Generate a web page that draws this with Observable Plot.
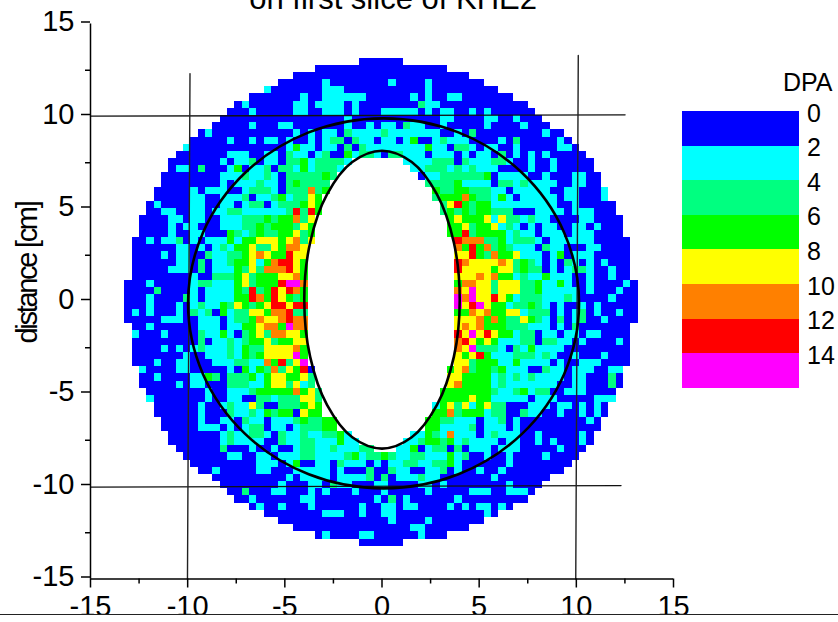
<!DOCTYPE html>
<html><head><meta charset="utf-8">
<script src="https://cdn.jsdelivr.net/npm/d3@7"></script>
<script src="https://cdn.jsdelivr.net/npm/@observablehq/plot@0.6"></script>
<style>
html,body{margin:0;padding:0;background:#fff;font-family:"Liberation Sans",Arial,sans-serif;overflow:hidden}
#wrap{position:relative;width:838px;height:614px;overflow:hidden;border-bottom:1px solid #222}
#legend div{position:absolute;color:#000}
svg{overflow:visible}
</style></head><body>
<div id="wrap"><div id="chart"></div><div id="legend"></div></div>
<script>
const dpaLabels=["0","2","4","6","8","10","12","14"];
const dpaThresholds=[2,4,6,8,10,12,14];
const dpaColors=["#0000ff","#00ffff","#00ff80","#00ff00","#ffff00","#ff8000","#ff0000","#ff00ff"];
const titleText="on first slice of KHE2";
const yLabel="distance [cm]";
const majorTicks=[-15,-10,-5,0,5,10,15];
const minorTicks=[-12.5,-7.5,-2.5,2.5,7.5,12.5];
// first occupied column of each scan line, top to bottom
const rowStart=[32,26,23,21,19,17,15,14,13,12,10,9,8,7,6,6,5,5,4,4,3,3,2,2,2,1,1,1,1,1,1,0,0,0,0,0,0,1,1,1,1,1,1,2,2,2,3,3,4,4,5,5,6,6,7,8,9,10,12,13,14,15,17,19,21,23,26,32];
// DPA class per cell (0 = 0-2 ... 7 = 14+); "|" marks the hole of the inner contour
const rows=[
"000000",
"000000000000000000",
"000000000000000000000000",
"000000 1 00000000 1 0000 1 0000000",
"1 0000000 111 00000000000 1 000000000",
"0000000 1 00 111111 000000 1 0 1 00 11 0000000",
"0 1 000000 11 0 1111 0 1 00000000 2 11 000000000000",
"000 1 00000 11 00 111 0 1 000 11111 0 1 0 11 00 1 0 1 000000",
"00000000000000000 1 000000000000 11 0000 11 00 1 000",
"00000 1 000 11 0000000 1 00 1 0 11 0 2 11 00 1 00000 1 0000 1 000",
"0 1 00000000000 1 0 1 0 11 0 2 1111 2 111111 1 00 1 0 2 000000000 1 00",
"00000 1 00 1 0 11 0100 1 0 1 22 0 2 11 0 11 0 1 3 00 1 2 111 0000 1 0 2 00000 1 0",
"1 0000000000000 1 3 11 0 11 0 2 0 2 11111111 3 11 0 22 1 0 11 00 1 00000 11 0",
"0000000 111 00 11 0 2 11 0 12 00 3 1 22 1 0 22 111 0 111 0 1 0 11 0 2 0 1 0 1 0 1 00000",
"0000000 1 0 11 2 0 11 0 22 3 1 2222 1 | 11 11 222 0 2 111 22 1 00 1 00 1 00000",
"0 11 0 2 000 1 3 0 11 2 0 22 1 3 1 222 1 | 11 222 1 2 1 2 111 0000 1 00 1 00000",
"00000000 111 2 11 2 1 0 22222 3 2 | 01 1 222222 3 0 1111 00 1 000 11 00",
"00000000 1 0 111 2 11 0 2 3 2222 | 22 22 3 1111 0 22 1 2 1111 00 11 00",
"00000 1 0 111 00 1 222 1 0 222 5 2 3 | 3 22 33 222 11 0 1111 1 00 11 000 1",
"00000 11 00 111 2 0 11 2 3 1 22 4 3 | 23 33 5 3 22 1 3 1 0 11111 0 11 000 1",
"0 1 0000 11 00 11 0 1 22 0 1 222 3 4 3 | 2 46 3 2 33 111111111 00 1 00000",
"00 11 00 11 011 22 1111 1 1 2 6 2 6 3 | 2 3 2 3 2 33 222 000 1111 0 11 1 000",
"0000 11 0 11 00 111 222 3 2 33 5 2 4 | 3 4 333 4 1 4 22 1 2 11 0000 11 0000",
"0000 1 0 11 000 111 22 3 2 333 2 4 3 | 3 3 4 2 33 4 1 2 1 0 1 0 11 00 11 0 1 000",
"0000 1 00 11 000 3 2 1 2 3 22 33 4 2 3 | 3 3 6 2 3333 1 2 11 0 111 0 111 0000",
"00 1 0 11 2 0 1 0 111 3 1 33 444 3 4 5 2 4 | 6 555 22 3 1 222 1 0 111111 00000",
"000000 11 0 1 0 1 2 1 33 4 22 4 3 55 4 | 5 3 6 3 5 2 3 2 111 0 2 11 000 11 0000",
"0000 1 0 11 00 2 11 22 3 4 5 4 33 6 44 | 44 6 3 2 5 33 4 111 0 1 3 0 111 00000",
"000000 11 0 2 0 11 2 33 4 1 3 5 66 4 3 | 6 5 4444 5 4 2 3 2 1 0 1 0 2 1 0 1 0 1 000",
"00000 111 0 2 0 111 3 2 4 2 555 6 4 3 | 6 4444 3 44 2 3 22 0 1 0 1 22 1 00 1 00",
"00000000 1 00 222 3 4 2 333 44 5 3 | 444 5 4 5 33 1 2 11 3 111 00 1 00 1 00",
"000 1 00000 1 22 111 3 4 2 333 6 77 5 | 3 5 5 44 2 444 22 3 11 3 1 00 1 0000 1 0",
"0000 2 0000 1 0 1111 3 2 6 2 3 6 4 6 5 3 | 5 4 7 44 2 444 22 3 11111 0 1 000 1 00",
"000 1 0000 2 1 0 1111 33 6 5 3 6 4 3 2 3 | 7 5 7 44 6 4 3 1 222 111 2 1 0000 1 000",
"000 1 000 1 0 1 2 11 3 2 4 3 2 3 4 66 4 66 | 7 4 6 7 4 33 1 22 3 2 1 0 1 00 1 0 1 00000",
"0 1 0 1 000 1 0 2 1 2 0 3 1 22 44 3 55 6 22 | 33 5 4 5 33 44 1 222 0 1 0 1 2 0 1 00 1 00",
"00000 111 00 11 1 0 1 22 3 5 44 5 6 55 | 444 5 3 5 3 22 4 3 2 1 0 2 0 1 2 00 1 0000",
"00 1 000000 111 0 11 33 4 55 3 7 55 | 4 5 4 5 333 222 111 0 1 0 2 0000000",
"1 000 1 0000 2 11 3 1 0 2 3 4 2 55 44 3 | 6 4 7 4 6 4 33 1 22 0 11 0 11 0 11 0000",
"000000000 2 0 11 2 1 2 33 4 2 33 44 | 5 6 4 3 4 3 111 22 0 22 11 0 1 0000 1 0",
"0000 1 0 1 0 1 2 111 2 1 3 22 4444 5 3 | 5 4 7 222 1 0 2 1 3 1111 000000000",
"0000000 1 00 111 2 1 3 2 3 4444 7 3 | 4 3 4 6 3 111 222 1 2 1 00 1 000 1 000",
"000 1 00 11 000 111 22 11 5 3 6 2 4 7 | 44 2 333 11 3 1111 0 1 00 111 0000",
"1 0000 11 0000 0 1 0 3 1 3 2 5 2 4 3 6 0 | 3 4 5 2 33 2 3 111 00 2 11 0 111 00 11",
"00 1 0000 11 3 2 0 22 2 3 1 3 44 33 4 2 | 4 4 3333 1 2 1 2 1 2 1111 0 11 000 2 0",
"00000 1 0 11 000 222 11 3 44 2 4 1 2 | 4 5 3333 1 2 1111111 00 11 000 2 0",
"00000000 1 00 111 2 33333 5 3 4 2 | 3 333333 2 11 2 3 1 22 00 111 0000",
"1 0000000 1 00 11 00 22 1 222 44 2 | 3 333 4 33 11111 0 111 00000 111",
"000000 1 00 1 2 11 4 2 00 222 3 4 3 | 1 3 4 2 4 1 3 4 22 000 111 0 11 0 1 0 1 0",
"000000 1 000 2 11 2 1 3 2 33 0 4 33 | 3 3 5 2 333 1 22 00 2 11 00 1 00 1 0 1 0",
"00000 1 00 11 0 2 11 0 111 2 3 22 33 | 3 3 22 111 0 11 2 0 1 000000000 1 0",
"00000 111 0 1 0 1 22 0 11 0 1 2 22 33 | 3 3 11 11 2 0 111 0 1 00000000000",
"0000000 1 2 11 22 1 0 2 11 2 11 22 3 1 | 11 3 2 1 5 111 0 1 2 111 00 1 00000 1 0",
"0000000 1 2 1111 00 2 11 22 111 3 11 | 11 2 33 2 3 1 2 1 111 0 11 00 1 0 1 000 1 0",
"000000 2 000 1 00 1 00 1 22 11 2 11 1 22 | 11 3 0 1 22 0 2 0 111 0 111 0 0000 1 000",
"000000 11 00 11 0 111 22 1111 2 3 1 22 3 2 11 22 111 3 1 2 00 1 00 1 0000 1 0000",
"000000000 111 0 1 3 00 11 0 2 111 0 1 0 11 22 11 22 3 1 000000 1 00000000",
"00 1 00000 11 000 11111 0 1 000 2 00 2 11 00 11 2 0 1 00 1 00 1 00000000",
"000000000 0 1 0 1111 0 1111 2 0 2 0 111 2 11 0 000000 1 0000000",
"00000000 1 000 11 0 2 11 000 11 0000 11 0 1 00000000 1 0000",
"00 2 000 11 000 1 0 1 000 1 000 1 00000 1 00000 111 00 111 0",
"00 1 000000 11 00000000 1 0 2 0 1 000000 1 000000 000",
"0 1 00 1 000 1 000000 1 00 11 0 11 0000 1 0 1 0 11 0 1 0",
"00000000 111 00 1 00 11 000000000000 1 0",
"000000000000000 1 0000 1 0000000",
"0000000000000000 11 000000",
"0 1 0000 11 000000 1 000",
"000000"
];
const nCols=70, gridLeft=-13.23, colW=26.41/nCols, gridTop=13.16, rowH=26.39/rows.length;
const cells=[];
rows.forEach((row,r)=>{
  const l=rowStart[r], parts=row.replace(/ /g,"").split("|");
  const put=(c,ch)=>cells.push({x1:gridLeft+c*colW,x2:gridLeft+(c+1)*colW,y1:gridTop-r*rowH,y2:gridTop-(r+1)*rowH,dpa:2*(+ch)+1});
  [...parts[0]].forEach((ch,i)=>put(l+i,ch));
  if(parts[1]){const end=nCols-l;[...parts[1]].forEach((ch,i)=>put(end-parts[1].length+i,ch));}
});
// contours, points (cm)
const outerX=[10.14,9.37,7.19,3.93,0.08,-3.77,-7.03,-9.21,-9.98,-9.21,-7.03,-3.77,0.08,3.93,7.19,9.37];
const outerY=[-0.1,3.73,6.97,9.14,9.9,9.14,6.97,3.73,-0.1,-3.93,-7.17,-9.34,-10.1,-9.34,-7.17,-3.93];
const innerX=[4,3.7,2.83,1.53,0,-1.53,-2.83,-3.7,-4,-3.7,-2.83,-1.53,0,1.53,2.83,3.7];
const innerY=[0.1,3.18,5.79,7.54,8.15,7.54,5.79,3.18,0.1,-2.98,-5.59,-7.34,-7.95,-7.34,-5.59,-2.98];
const crossH1=[[-15,10.02],[12.51,10.09]], crossH2=[[-15,-10.03],[12.3,-9.95]];
const crossV1=[[-9.88,12.32],[-10.01,-15]], crossV2=[[10.1,13.3],[9.97,-15]];
const zip=(X,Y)=>X.map((x,i)=>[x,Y[i]]);
const chart=Plot.plot({
  width:838,height:622,marginLeft:90,marginRight:165,marginTop:23.5,marginBottom:43.5,
  style:{fontFamily:'"Liberation Sans",Arial,sans-serif',background:"transparent",color:"#000"},
  x:{domain:[-15,15]},y:{domain:[-15,15]},
  color:{type:"threshold",domain:dpaThresholds,range:dpaColors},
  marks:[
    Plot.rect(cells,{x1:"x1",x2:"x2",y1:"y1",y2:"y2",fill:"dpa",shapeRendering:"crispEdges"}),
    Plot.line(crossH1,{stroke:"#111",strokeWidth:1.3}),
    Plot.line(crossH2,{stroke:"#111",strokeWidth:1.3}),
    Plot.line(crossV1,{stroke:"#222",strokeWidth:1.4}),
    Plot.line(crossV2,{stroke:"#222",strokeWidth:1.4}),
    Plot.line(zip(outerX,outerY),{curve:"catmull-rom-closed",stroke:"#000",strokeWidth:2.6}),
    Plot.line(zip(innerX,innerY),{curve:"catmull-rom-closed",stroke:"#000",strokeWidth:2.6}),
    Plot.ruleX([-15],{y1:-15,y2:15,stroke:"#000",strokeWidth:1.5}),
    Plot.ruleY([-15],{x1:-15,x2:15,stroke:"#000",strokeWidth:1.5}),
    Plot.axisX({ticks:majorTicks,tickSize:9,tickPadding:7,tickFormat:d=>String(d),fontSize:29,label:null,strokeWidth:1.5}),
    Plot.axisX({ticks:minorTicks,tickSize:5,tickFormat:()=>"",label:null,strokeWidth:1.5}),
    Plot.axisY({ticks:majorTicks,tickSize:9,tickPadding:7,tickFormat:d=>String(d),fontSize:29,label:null,strokeWidth:1.5,dy:-2}),
    Plot.axisY({ticks:minorTicks,tickSize:5,tickFormat:()=>"",label:null,strokeWidth:1.5}),
    Plot.text([yLabel],{x:-15,y:1.54,dx:-63,rotate:-90,fontSize:29,text:d=>d,fill:"#000"}),
    Plot.text([titleText],{x:0.57,y:15.8,fontSize:31,text:d=>d,fill:"#000",lineAnchor:"bottom"})
  ]
});
chart.querySelectorAll("text").forEach(t=>{if(t.textContent===yLabel)t.style.letterSpacing="-2.3px";});
document.getElementById("chart").appendChild(chart);
const legend=document.getElementById("legend");
const add=(css,txt)=>{const d=document.createElement("div");d.style.cssText=css;if(txt)d.textContent=txt;legend.appendChild(d);};
add("left:783px;top:69px;font-size:25px;line-height:26px","DPA");
const band=276.8/dpaColors.length;
dpaColors.forEach((c,i)=>{
  add(`left:682px;top:${111+i*band}px;width:117px;height:${band+0.5}px;background:${c}`);
  add(`left:807px;top:${99.5+i*band}px;font-size:25px;line-height:26px`,dpaLabels[i]);
});
</script>
</body></html>
